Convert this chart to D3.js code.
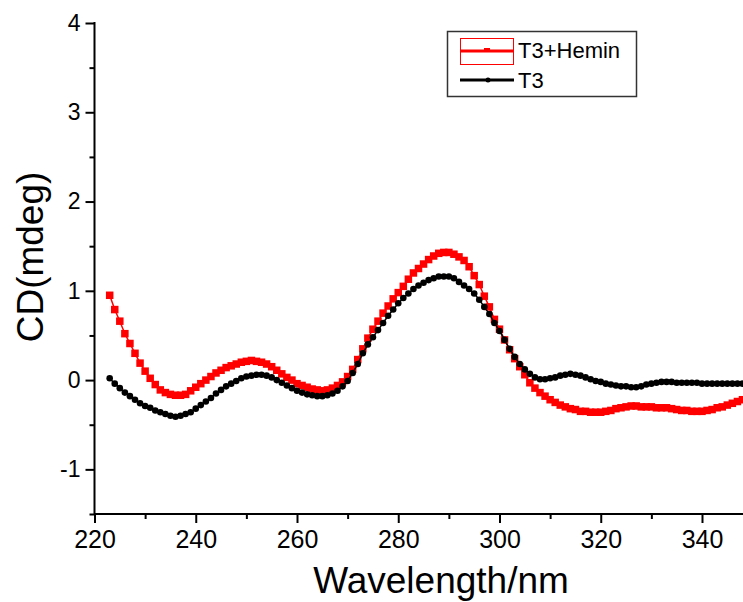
<!DOCTYPE html>
<html>
<head>
<meta charset="utf-8">
<script src="https://cdn.jsdelivr.net/npm/d3@7"></script>
<style>
  body { margin: 0; background: #fff; }
  svg { display: block; font-family: "Liberation Sans", Arial, sans-serif; }
</style>
</head>
<body>
<svg id="chart" width="743" height="602"></svg>
<script>
// Wavelength grid (nm), one reading per nm
var wavelengths = d3.range(223, 349);

// T3+Hemin (red squares)
var t3Hemin = [
  0.95, 0.79, 0.66, 0.52, 0.41, 0.30, 0.19, 0.10, 0.02, -0.05,
  -0.11, -0.14, -0.16, -0.17, -0.17, -0.16, -0.12, -0.08, -0.04, 0.00,
  0.04, 0.08, 0.11, 0.14, 0.16, 0.18, 0.20, 0.21, 0.22, 0.21,
  0.20, 0.18, 0.15, 0.11, 0.07, 0.03, 0.00, -0.04, -0.06, -0.08,
  -0.10, -0.11, -0.12, -0.11, -0.09, -0.06, -0.02, 0.04, 0.12, 0.23,
  0.35, 0.47, 0.57, 0.66, 0.75, 0.83, 0.91, 0.98, 1.05, 1.13,
  1.20, 1.25, 1.30, 1.35, 1.39, 1.42, 1.43, 1.43, 1.41, 1.38,
  1.34, 1.27, 1.17, 1.07, 0.94, 0.82, 0.68, 0.57, 0.45, 0.34,
  0.24, 0.15, 0.06, -0.03, -0.09, -0.14, -0.18, -0.22, -0.25, -0.28,
  -0.30, -0.32, -0.33, -0.35, -0.35, -0.36, -0.36, -0.36, -0.35, -0.34,
  -0.32, -0.31, -0.30, -0.29, -0.29, -0.30, -0.30, -0.30, -0.31, -0.31,
  -0.31, -0.32, -0.33, -0.34, -0.34, -0.35, -0.35, -0.35, -0.34, -0.33,
  -0.31, -0.30, -0.28, -0.26, -0.24, -0.22
];

// T3 (black dots)
var t3 = [
  0.02, -0.04, -0.09, -0.14, -0.18, -0.22, -0.26, -0.29, -0.31, -0.34,
  -0.36, -0.38, -0.40, -0.41, -0.40, -0.38, -0.36, -0.32, -0.28, -0.24,
  -0.20, -0.15, -0.11, -0.07, -0.04, -0.01, 0.02, 0.04, 0.05, 0.06,
  0.06, 0.05, 0.03, 0.00, -0.03, -0.06, -0.09, -0.12, -0.14, -0.16,
  -0.17, -0.18, -0.18, -0.17, -0.15, -0.12, -0.07, -0.01, 0.08, 0.18,
  0.30, 0.40, 0.48, 0.56, 0.64, 0.72, 0.79, 0.86, 0.92, 0.97,
  1.02, 1.06, 1.09, 1.12, 1.14, 1.16, 1.16, 1.16, 1.14, 1.10,
  1.06, 1.02, 0.97, 0.90, 0.82, 0.74, 0.64, 0.55, 0.45, 0.35,
  0.26, 0.18, 0.12, 0.07, 0.03, 0.01, 0.01, 0.02, 0.03, 0.05,
  0.06, 0.07, 0.06, 0.05, 0.03, 0.01, -0.01, -0.02, -0.04, -0.05,
  -0.06, -0.07, -0.07, -0.08, -0.08, -0.07, -0.05, -0.04, -0.03, -0.02,
  -0.02, -0.02, -0.03, -0.03, -0.03, -0.03, -0.03, -0.04, -0.04, -0.04,
  -0.04, -0.04, -0.04, -0.04, -0.04, -0.04
];

var xMajor = [220, 240, 260, 280, 300, 320, 340];
var xMinor = [230, 250, 270, 290, 310, 330];
var yMajor = [-1, 0, 1, 2, 3, 4];
var yMinor = [-1.5, -0.5, 0.5, 1.5, 2.5, 3.5];

var svg = d3.select("#chart");

var xscale = d3.scaleLinear().domain([220, 348.1]).range([94.5, 743]);
var yscale = d3.scaleLinear().domain([-1.5, 4]).range([514, 23]);

// plain hyphen for negatives, like the original
var intFormat = function(d) { return String(d); };

// Axes: major ticks labelled, minor ticks shorter
function draw_axes() {
  var yAxis = svg.append("g").attr("transform", "translate(94.5,0)");
  yAxis.call(d3.axisLeft(yscale).tickValues(yMajor).tickSize(9).tickPadding(5).tickFormat(intFormat));
  yAxis.append("g").call(d3.axisLeft(yscale).tickValues(yMinor).tickSize(5).tickFormat(""));
  yAxis.selectAll("path.domain").remove();
  yAxis.append("line").attr("x1", 0).attr("x2", 0)
    .attr("y1", yscale(4) - 1).attr("y2", yscale(-1.5) + 1)
    .attr("stroke", "#000").attr("stroke-width", 2);

  var xAxis = svg.append("g").attr("transform", "translate(0,514)");
  xAxis.call(d3.axisBottom(xscale).tickValues(xMajor).tickSize(9).tickPadding(7).tickFormat(intFormat));
  xAxis.append("g").call(d3.axisBottom(xscale).tickValues(xMinor).tickSize(5).tickFormat(""));
  xAxis.selectAll("path.domain").remove();
  xAxis.append("line").attr("x1", 94.5).attr("x2", 743).attr("y1", 0).attr("y2", 0)
    .attr("stroke", "#000").attr("stroke-width", 2);

  svg.selectAll(".tick line").attr("stroke", "#000").attr("stroke-width", 2);
  yAxis.selectAll(".tick text").style("font-size", "23px").attr("fill", "#000");
  xAxis.selectAll(".tick text").style("font-size", "25px").attr("fill", "#000");

  svg.append("text")
    .attr("x", 441).attr("y", 593)
    .attr("text-anchor", "middle")
    .style("font-size", "37px")
    .text("Wavelength/nm");
  svg.append("text")
    .attr("transform", "translate(43,257) rotate(-90)")
    .attr("text-anchor", "middle")
    .style("font-size", "37px")
    .text("CD(mdeg)");
}

function draw_series(values, color, shape) {
  var pts = wavelengths.map(function(w, i) { return { x: w, y: values[i] }; });
  svg.append("path")
    .datum(pts)
    .attr("fill", "none")
    .attr("stroke", color)
    .attr("stroke-width", 1.5)
    .attr("d", d3.line()
      .x(function(d) { return xscale(d.x); })
      .y(function(d) { return yscale(d.y); }));
  if (shape == "square") {
    svg.append("g").selectAll("rect").data(pts).enter().append("rect")
      .attr("x", function(d) { return xscale(d.x) - 3.75; })
      .attr("y", function(d) { return yscale(d.y) - 3.75; })
      .attr("width", 7.5).attr("height", 7.5)
      .attr("fill", color);
  } else {
    svg.append("g").selectAll("circle").data(pts).enter().append("circle")
      .attr("cx", function(d) { return xscale(d.x); })
      .attr("cy", function(d) { return yscale(d.y); })
      .attr("r", 3.3)
      .attr("fill", color);
  }
}

function draw_legend() {
  var lg = svg.append("g");
  lg.append("rect").attr("x", 447.5).attr("y", 31.5).attr("width", 189).attr("height", 65)
    .attr("fill", "#fff").attr("stroke", "#333").attr("stroke-width", 1.5);
  // red entry
  lg.append("rect").attr("x", 460.5).attr("y", 38.5).attr("width", 53).attr("height", 26)
    .attr("fill", "none").attr("stroke", "red").attr("stroke-width", 1);
  lg.append("line").attr("x1", 460).attr("x2", 514).attr("y1", 51).attr("y2", 51)
    .attr("stroke", "red").attr("stroke-width", 3);
  lg.append("rect").attr("x", 484).attr("y", 48).attr("width", 6).attr("height", 4).attr("fill", "red");
  lg.append("text").attr("x", 518).attr("y", 58).style("font-size", "22px").text("T3+Hemin");
  // black entry
  lg.append("line").attr("x1", 460).attr("x2", 514).attr("y1", 80).attr("y2", 80)
    .attr("stroke", "#000").attr("stroke-width", 3);
  lg.append("circle").attr("cx", 488).attr("cy", 80).attr("r", 2.5).attr("fill", "#000");
  lg.append("text").attr("x", 518).attr("y", 88).style("font-size", "22px").text("T3");
}

draw_series(t3Hemin, "#ff0000", "square");
draw_series(t3, "#000000", "circle");
draw_axes();
draw_legend();
</script>
</body>
</html>
